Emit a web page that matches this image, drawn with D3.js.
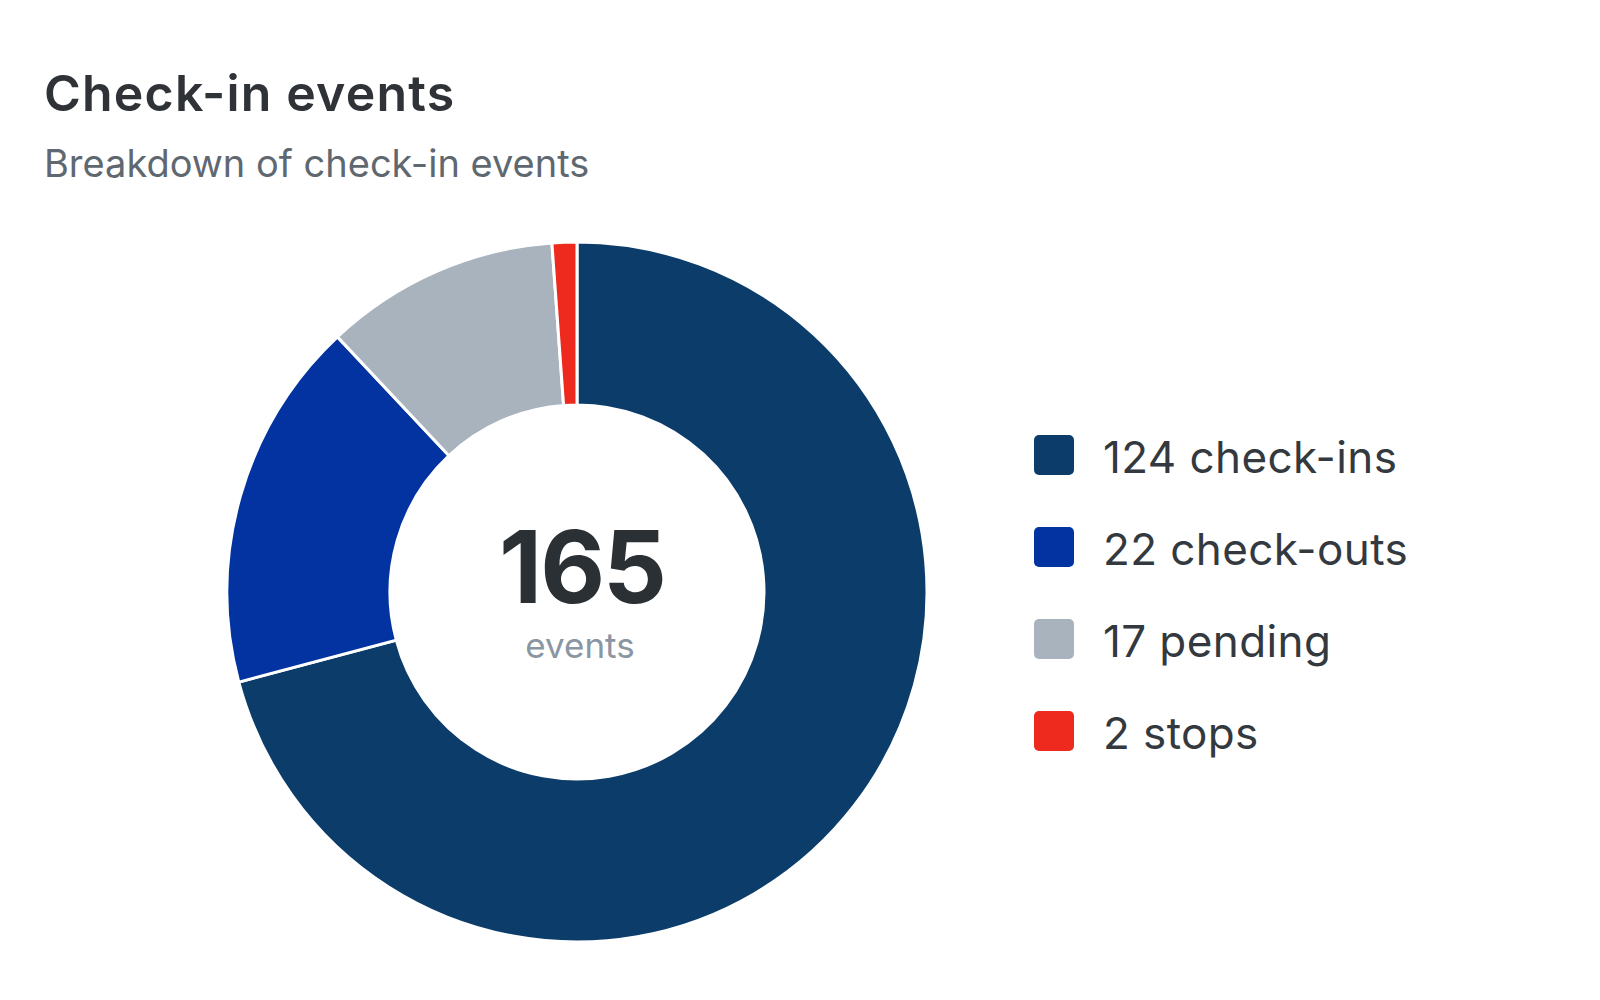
<!DOCTYPE html>
<html>
<head>
<meta charset="utf-8">
<script src="https://cdn.jsdelivr.net/npm/d3@7"></script>
<style>
  body { margin: 0; background: #fff; }
  svg { display: block; font-family: Inter, "Noto Sans", sans-serif; }
</style>
</head>
<body>
<svg id="chart" width="1600" height="1000"></svg>
<script>
const categories = ["check-ins", "check-outs", "pending", "stops"];
// counts printed in the legend
const counts = [124, 22, 17, 2];
// slice sizes as drawn in the picture (the arcs do not follow the printed counts)
const sliceValues = [124, 30, 19, 2];
const total = 165;
const colors = ["#0b3c6a", "#0233a1", "#a8b3bd", "#ee2a1f"];

const svg = d3.select("#chart");

svg.append("text")
  .attr("x", 44)
  .attr("y", 111)
  .attr("fill", "#2f3337")
  .attr("font-size", "50px")
  .attr("font-weight", 600)
  .attr("letter-spacing", "1.2px")
  .text("Check-in events");

svg.append("text")
  .attr("x", 44)
  .attr("y", 177)
  .attr("fill", "#5f6870")
  .attr("font-size", "38px")
  .text("Breakdown of check-in events");

const cx = 577, cy = 592;
const outerR = 350, innerR = 187;

const pie = d3.pie().sort(null).value(d => d);
const arc = d3.arc().innerRadius(innerR).outerRadius(outerR);

const g = svg.append("g").attr("transform", `translate(${cx},${cy})`);

g.selectAll("path")
  .data(pie(sliceValues))
  .enter()
  .append("path")
  .attr("d", arc)
  .attr("fill", (d, i) => colors[i])
  .attr("stroke", "#fff")
  .attr("stroke-width", 3);

g.append("text")
  .attr("x", 5)
  .attr("y", 11)
  .attr("text-anchor", "middle")
  .attr("fill", "#2b3035")
  .attr("font-size", "100px")
  .attr("font-weight", 700)
  .attr("letter-spacing", "-2px")
  .text(total);

g.append("text")
  .attr("x", 3)
  .attr("y", 66)
  .attr("text-anchor", "middle")
  .attr("fill", "#8a96a2")
  .attr("font-size", "35px")
  .text("events");

const legendY = d3.scalePoint()
  .domain(categories)
  .range([455, 731]);

const legend = svg.append("g")
  .selectAll("g")
  .data(categories)
  .enter()
  .append("g")
  .attr("transform", d => `translate(1034,${legendY(d)})`);

legend.append("rect")
  .attr("x", 0)
  .attr("y", -20)
  .attr("width", 40)
  .attr("height", 40)
  .attr("rx", 5)
  .attr("fill", (d, i) => colors[i]);

legend.append("text")
  .attr("x", 69)
  .attr("y", 18)
  .attr("fill", "#33393e")
  .attr("font-size", "44px")
  .attr("letter-spacing", "0.4px")
  .text((d, i) => `${counts[i]} ${d}`);
</script>
</body>
</html>
